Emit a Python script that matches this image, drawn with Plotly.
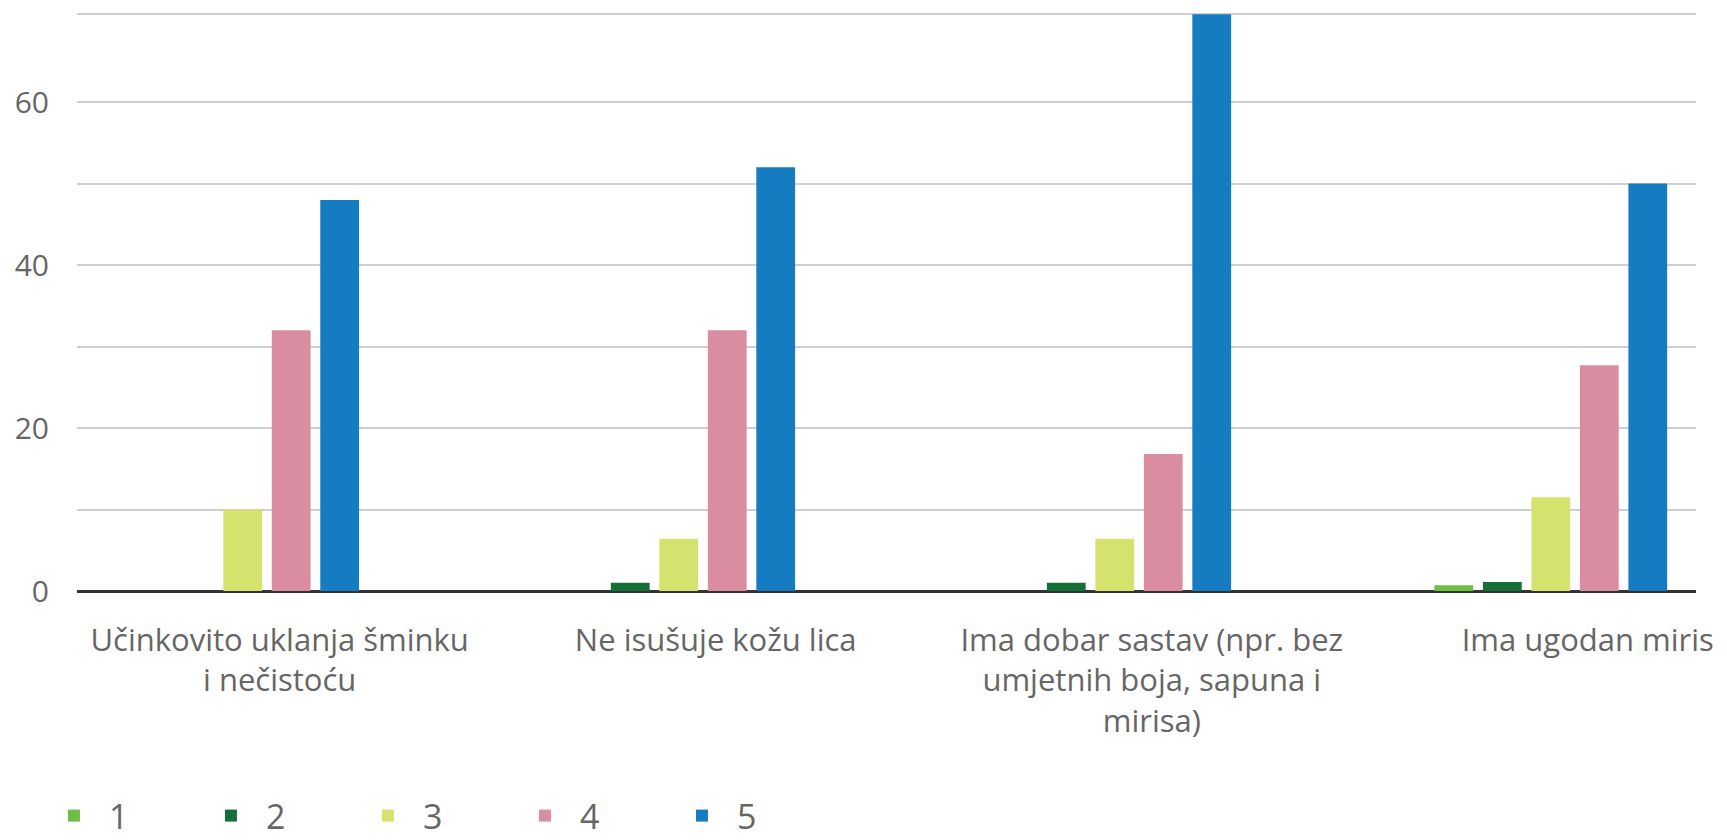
import plotly.graph_objects as go

# ---- data ----
categories = [
    "Učinkovito uklanja šminku<br>i nečistoću",
    "Ne isušuje kožu lica",
    "Ima dobar sastav (npr. bez<br>umjetnih boja, sapuna i<br>mirisa)",
    "Ima ugodan miris",
]
series_names = ["1", "2", "3", "4", "5"]
values_1 = [0, 0, 0, 0.7]
values_2 = [0, 1.0, 1.0, 1.1]
values_3 = [10, 6.4, 6.4, 11.5]
values_4 = [32, 32, 16.8, 27.7]
values_5 = [48, 52, 70.8, 50]
y_tick_values = [0, 10, 20, 30, 40, 50, 60]
y_tick_labels = ["0", "", "20", "", "40", "", "60"]

series_values = [values_1, values_2, values_3, values_4, values_5]
colors = ["#6cbe45", "#166f3b", "#d5e26d", "#da8ca1", "#167cc1"]

FONT = "'Open Sans', Lato, Arial, sans-serif"
TEXT_COLOR = "#666666"

fig = go.Figure()
for name, vals, col in zip(series_names, series_values, colors):
    fig.add_trace(go.Bar(
        x=categories, y=vals, name=name,
        marker=dict(color=col, line=dict(width=0)),
    ))

y_max = max(max(v) for v in series_values)

W, H = 1719, 832  # page body has an 8px margin

fig.update_layout(
    width=W, height=H,
    paper_bgcolor="white", plot_bgcolor="white",
    margin=dict(l=69, r=31, t=5, b=249),
    barmode="group", bargap=0.444, bargroupgap=0.2,
    font=dict(family=FONT, color=TEXT_COLOR, size=31),
    showlegend=True,
    legend=dict(
        orientation="h", xref="container", yref="container",
        x=0.018, y=1 - 808 / H, xanchor="left", yanchor="middle",
        font=dict(size=34, color=TEXT_COLOR),
        entrywidth=82, entrywidthmode="pixels",
        traceorder="normal", itemwidth=60,
    ),
    xaxis=dict(
        type="category", range=[-0.38, 3.333],
        showgrid=False, showline=False, ticks="",
        tickfont=dict(size=31, color=TEXT_COLOR),
        ticklabelshift=37, ticklabelstandoff=28,
        tickangle=0,
    ),
    yaxis=dict(
        range=[0, y_max * 1.002],
        tickvals=y_tick_values + [y_max],
        ticktext=y_tick_labels + [""],
        showgrid=True, gridcolor="#cfcfcf", gridwidth=2,
        zeroline=True, zerolinecolor="#333333", zerolinewidth=3,
        showline=False, ticks="",
        tickfont=dict(size=30, color=TEXT_COLOR),
        ticklabelstandoff=27,
    ),
)

fig.write_html("out.html")
